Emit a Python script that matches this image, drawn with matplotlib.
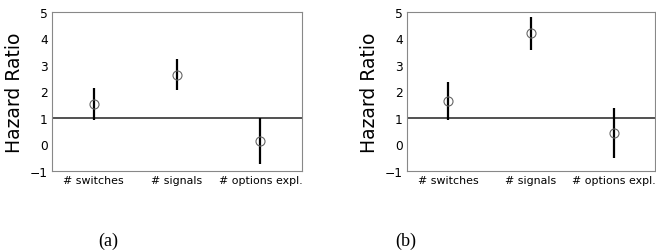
import matplotlib
matplotlib.use("Agg")
import matplotlib.pyplot as plt
import numpy as np

categories = ["# switches", "# signals", "# options expl."]
a_center = [1.52, 2.62, 0.12]
a_low = [0.92, 2.04, -0.75]
a_high = [2.12, 3.22, 1.0]
b_center = [1.63, 4.19, 0.42]
b_low = [0.92, 3.57, -0.50]
b_high = [2.35, 4.83, 1.36]
captions = ["(a)", "(b)"]
yticks = [-1, 0, 1, 2, 3, 4, 5]

fig = plt.figure(figsize=(6.56, 2.53), dpi=100)
W, H = 656, 253
boxes = [(52, 13, 250, 159), (407, 13, 248, 159)]
data = [(a_center, a_low, a_high), (b_center, b_low, b_high)]
cap_x = [108, 406]

for (x0, y0, w, h), (c, lo, hi), cap, cx in zip(boxes, data, captions, cap_x):
    ax = fig.add_axes([x0 / W, 1 - (y0 + h) / H, w / W, h / H])
    x = np.arange(len(categories))
    c = np.array(c); lo = np.array(lo); hi = np.array(hi)
    ax.axhline(1, color="#333333", lw=1.2, zorder=1)
    ax.vlines(x, lo, hi, color="black", lw=1.6, zorder=2)
    ax.plot(x, c, "o", mfc="none", mec="#666666", ms=6.5, mew=0.8, zorder=3)
    ax.set_xlim(-0.5, 2.5)
    ax.set_ylim(-1, 5)
    ax.set_yticks(yticks)
    ax.set_yticklabels([str(t).replace("-", "\u2212") for t in yticks], fontsize=8.8)
    ax.set_xticks(x)
    ax.set_xticklabels(categories, fontsize=7.9)
    ax.tick_params(length=0, pad=3)
    ax.set_ylabel("Hazard Ratio", fontsize=13.5, labelpad=4)
    for s in ax.spines.values():
        s.set_color("#888888")
        s.set_linewidth(0.8)
    fig.text(cx / W, 1 - 241 / H, cap, ha="center", va="center",
             family="Liberation Serif", fontsize=13)

fig.savefig("out.png", dpi=100)
